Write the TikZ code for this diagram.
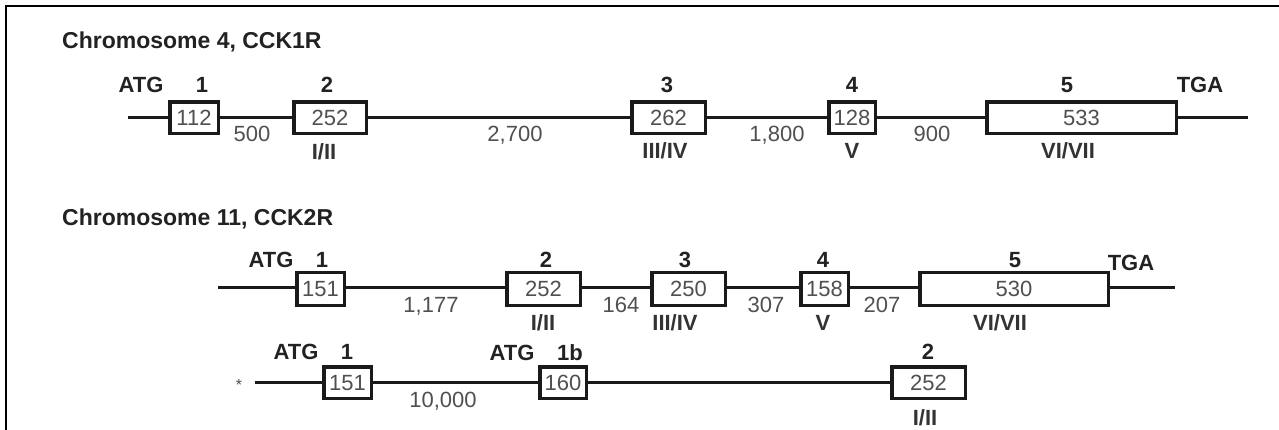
\documentclass[tikz,border=0pt]{standalone}
\usepackage{fontspec}
\setmainfont{Liberation Sans}
\definecolor{linec}{HTML}{1A1A1A}
\definecolor{numc}{HTML}{505050}
\definecolor{lblc}{HTML}{222222}
\definecolor{romc}{HTML}{333333}
\newcommand\numfnt{\fontsize{22}{24}\selectfont}
\newcommand\lblfnt{\fontsize{22}{24}\selectfont\bfseries}
\newcommand\ttlfnt{\fontsize{23}{25}\selectfont\bfseries}
\tikzset{
  exon/.style={draw=linec, line width=3.5pt, fill=white, inner sep=0pt,
    minimum height=31.5pt, text height=15.8pt, text depth=0pt, font=\numfnt, text=numc},
  backbone/.style={draw=linec, line width=3pt},
  lbl/.style={inner sep=0pt, text height=15.8pt, text depth=0pt, font=\lblfnt, text=lblc},
  rom/.style={inner sep=0pt, text height=15.8pt, text depth=0pt, font=\lblfnt, text=romc},
  intr/.style={inner sep=0pt, text height=15.8pt, text depth=0pt, font=\numfnt, text=numc},
  ttl/.style={inner sep=0pt, text height=16.5pt, text depth=0pt, font=\ttlfnt, text=lblc, anchor=west},
  frameline/.style={draw=black, line width=2pt}
}
\begin{document}
\begin{tikzpicture}[x=1pt,y=-1pt]
\useasboundingbox (0,0) rectangle (1279,430);
% frame
\coordinate (fA) at (5.5,430);
\coordinate (fB) at (5.5,6.5);
\coordinate (fC) at (1279,6.5);
\draw[frameline] (fA) -- (fB) -- (fC);

% ---------- Row 1 ----------
\node[ttl] (t1) at (62,40) {Chromosome 4, CCK1R};
\node[exon, minimum width=48.5pt] (a1) at (194,118) {112};
\node[exon, minimum width=72.5pt] (a2) at (330,118) {252};
\node[exon, minimum width=73.5pt] (a3) at (668.5,118) {262};
\node[exon, minimum width=46.5pt] (a4) at (852,118) {128};
\node[exon, minimum width=189.5pt] (a5) at (1081.5,118) {533};
\coordinate (as) at (128,118);
\coordinate (ae) at (1248,118);
\draw[backbone] (as) -- (a1.west) (a1.east) -- (a2.west) (a2.east) -- (a3.west)
  (a3.east) -- (a4.west) (a4.east) -- (a5.west) (a5.east) -- (ae);
\node[lbl] (aatg) at (141,85) {ATG};
\node[lbl] (an1) at (202,85) {1};
\node[lbl] (an2) at (327,85) {2};
\node[lbl] (an3) at (667,85) {3};
\node[lbl] (an4) at (852,85) {4};
\node[lbl] (an5) at (1067,85) {5};
\node[lbl] (atga) at (1200,85) {TGA};
\node[intr] (ai1) at (252,134) {500};
\node[intr] (ai2) at (515,134) {2,700};
\node[intr] (ai3) at (777,134) {1,800};
\node[intr] (ai4) at (932,134) {900};
\node[rom] (ar2) at (324,152) {I/II};
\node[rom] (ar3) at (665,151) {III/IV};
\node[rom] (ar4) at (852,151) {V};
\node[rom] (ar5) at (1068,151) {VI/VII};

% ---------- Row 2 ----------
\node[ttl] (t2) at (62,217) {Chromosome 11, CCK2R};
\node[exon, minimum width=47.5pt, minimum height=32.5pt] (b1) at (320.5,289) {151};
\node[exon, minimum width=73.5pt, minimum height=32.5pt] (b2) at (543.5,289) {252};
\node[exon, minimum width=73.5pt, minimum height=32.5pt] (b3) at (688.5,289) {250};
\node[exon, minimum width=47.5pt, minimum height=32.5pt] (b4) at (824.5,289) {158};
\node[exon, minimum width=188.5pt, minimum height=32.5pt] (b5) at (1014,289) {530};
\coordinate (bs) at (218,287);
\coordinate (be) at (1175,287);
\draw[backbone] (bs) -- (b1.west |- bs) (b1.east |- bs) -- (b2.west |- bs) (b2.east |- bs) -- (b3.west |- bs)
  (b3.east |- bs) -- (b4.west |- bs) (b4.east |- bs) -- (b5.west |- bs) (b5.east |- bs) -- (be);
\node[lbl] (batg) at (271,260) {ATG};
\node[lbl] (bn1) at (322,260) {1};
\node[lbl] (bn2) at (546,260) {2};
\node[lbl] (bn3) at (685,260) {3};
\node[lbl] (bn4) at (823,260) {4};
\node[lbl] (bn5) at (1015,260) {5};
\node[lbl] (btga) at (1131,263) {TGA};
\node[intr] (bi1) at (431,305) {1,177};
\node[intr] (bi2) at (621,305) {164};
\node[intr] (bi3) at (766,305) {307};
\node[intr] (bi4) at (882,305) {207};
\node[rom] (br2) at (543,323) {I/II};
\node[rom] (br3) at (675,323) {III/IV};
\node[rom] (br4) at (823,323) {V};
\node[rom] (br5) at (1000,323) {VI/VII};

% ---------- Row 3 ----------
\node[exon, minimum width=47.5pt] (c1) at (347.5,382.5) {151};
\node[exon, minimum width=46.5pt] (c2) at (563,382.5) {160};
\node[exon, minimum width=73.5pt] (c3) at (928.5,382.5) {252};
\coordinate (cs) at (255,382.5);
\draw[backbone] (cs) -- (c1.west) (c1.east) -- (c2.west) (c2.east) -- (c3.west);
\node[inner sep=0pt, anchor=base, font=\fontsize{16}{18}\selectfont, text=numc] (cstar) at (239,390) {*};
\node[lbl] (catg1) at (296,352) {ATG};
\node[lbl] (cn1) at (347,352) {1};
\node[lbl] (catg2) at (512,353) {ATG};
\node[lbl] (cn1b) at (570,353) {1b};
\node[lbl] (cn2) at (928,352) {2};
\node[intr] (ci1) at (443,400) {10,000};
\node[rom] (cr2) at (925,418) {I/II};
\end{tikzpicture}
\end{document}
